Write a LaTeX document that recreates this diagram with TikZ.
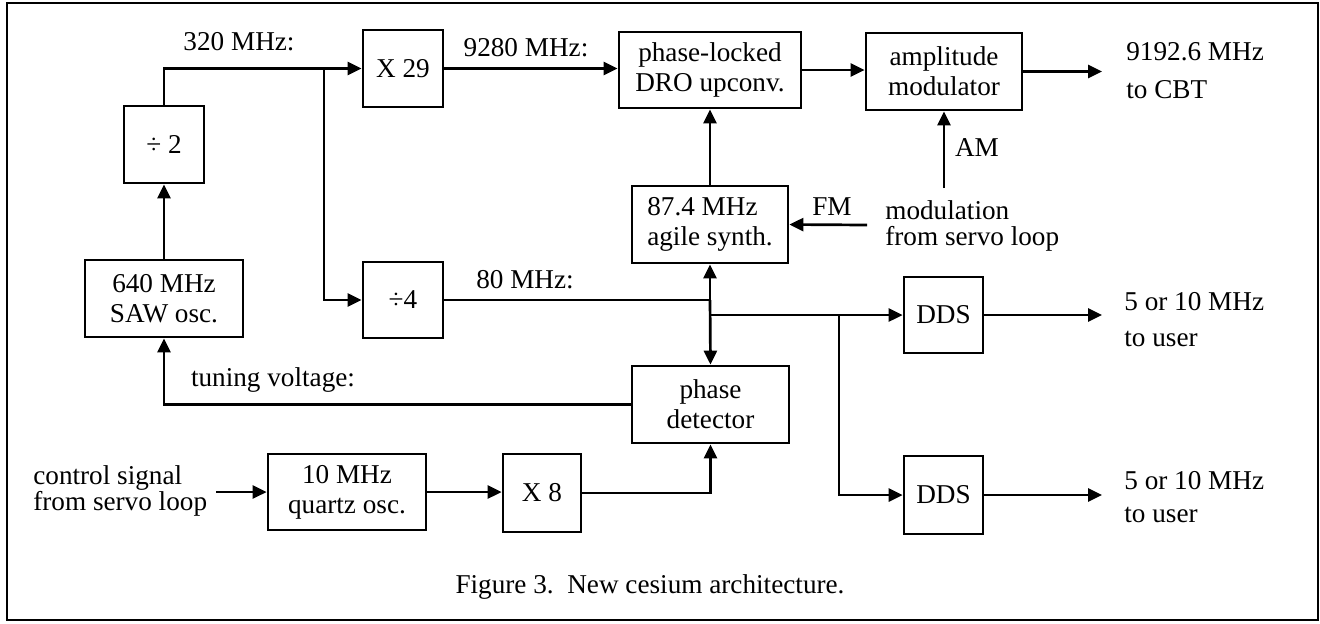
\documentclass[tikz,border=0pt]{standalone}
\usepackage{fontspec}
\setmainfont{Liberation Serif}
\usetikzlibrary{arrows.meta}

\begin{document}
\begin{tikzpicture}[x=0.5pt, y=-0.5pt, line width=1.35pt,
  font=\fontsize{13.6}{15}\selectfont,
  >={Triangle[length=7pt,width=6.5pt]},
  blk/.style 2 args={draw, rectangle, minimum width=#1, minimum height=#2,
    inner sep=0pt, align=center},
  lbl/.style={inner sep=0pt, align=left, anchor=west}]

  % page area and outer frame
  \useasboundingbox (0,0) rectangle (1320,623);
  \draw[line width=1.4pt] (7,3) rectangle (1318,620);

  % blocks
  \node[blk={40pt}{38.5pt}] (div2)   at (164,144.5) {÷ 2};
  \node[blk={79pt}{38.5pt}] (saw)    at (164,298.5) {640 MHz\\SAW osc.};
  \node[blk={40pt}{38.5pt}] (x29)    at (403,68.5)  {X 29};
  \node[blk={40pt}{38pt}]   (div4)   at (403,300)   {÷4};
  \node[blk={91pt}{38pt}]   (dro)    at (710,70)    {phase-locked\\DRO upconv.};
  \node[blk={78pt}{38.5pt}] (amp)    at (944,71.5)  {amplitude\\modulator};
  \node[blk={78pt}{38.5pt}, align=left] (synth) at (710,224.5) {87.4 MHz\\agile synth.};
  \node[blk={78.5pt}{38.5pt}] (pd)   at (710.5,404.5) {phase\\detector};
  \node[blk={79pt}{38pt}]   (quartz) at (347,492)   {10 MHz\\quartz osc.};
  \node[blk={39pt}{39pt}]   (x8)     at (542,493)   {X 8};
  \node[blk={39.5pt}{38pt}] (dds1)   at (943.5,315) {DDS};
  \node[blk={39.5pt}{39pt}] (dds2)   at (943.5,495) {DDS};

  % junctions and free ends
  \coordinate (j320) at (324,68.5);
  \coordinate (j80)  at (710,300);
  \coordinate (jdds) at (710,315);
  \coordinate (bdds) at (839,315);
  \coordinate (fmin) at (867,225);
  \coordinate (amin) at (944,188);
  \coordinate (ctl)  at (216,492);
  \coordinate (cbt)  at (1102,71.5);
  \coordinate (usr1) at (1102,315);
  \coordinate (usr2) at (1102,495);

  % connectors
  \draw[->] (saw.north) -- (div2.south);
  \draw[->] (div2.north) |- (x29.west);
  \draw[->] (j320) |- (div4.west);
  \draw[->] (x29.east) -- (x29.east -| dro.west);
  \draw[->] (dro.east) -- (dro.east -| amp.west);
  \draw[->] (amp.east) -- (cbt);
  \draw[->] (synth.north) -- (dro.south);
  \draw[->] (fmin) -- (synth.east);
  \draw[->] (amin) -- (amp.south);
  \draw (div4.east) -- (j80);
  \draw[->] (j80) -- (synth.south);
  \draw[->] (j80) -- (pd.north);
  \draw[->] (jdds) -- (dds1.west);
  \draw[->] (bdds) |- (dds2.west);
  \draw[->] (dds1.east) -- (usr1);
  \draw[->] (dds2.east) -- (usr2);
  \draw[->] (pd.west) -| (saw.south);
  \draw[->] (ctl) -- (quartz.west);
  \draw[->] (quartz.east) -- (quartz.east -| x8.west);
  \draw[->] (x8.east) -| (pd.south);

  % signal labels
  \node[inner sep=0pt] (l320)  at (239,42)  {320 MHz:};
  \node[inner sep=0pt] (l9280) at (526,48)  {9280 MHz:};
  \node[inner sep=0pt] (l80)   at (525,280) {80 MHz:};
  \node[inner sep=0pt] (ltune) at (273,380) {tuning voltage:};
  \node[inner sep=0pt] (lfm)   at (832,207) {FM};
  \node[inner sep=0pt] (lam)   at (977,148) {AM};
  \node[lbl, font=\fontsize{13.6}{13}\selectfont] (lmod) at (884,226) {modulation\\from servo loop};
  \node[lbl, font=\fontsize{13.6}{19}\selectfont] (lcbt) at (1125,71) {9192.6 MHz\\to CBT};
  \node[lbl, font=\fontsize{13.6}{18}\selectfont] (lu1)  at (1123,320) {5 or 10 MHz\\to user};
  \node[lbl, font=\fontsize{13.6}{16.5}\selectfont] (lu2) at (1123,497) {5 or 10 MHz\\to user};
  \node[lbl, font=\fontsize{13.6}{13}\selectfont] (lctl) at (32,491) {control signal\\from servo loop};

  % caption
  \node[inner sep=0pt] (cap) at (650,587) {Figure 3.\ \ New cesium architecture.};
\end{tikzpicture}
\end{document}
